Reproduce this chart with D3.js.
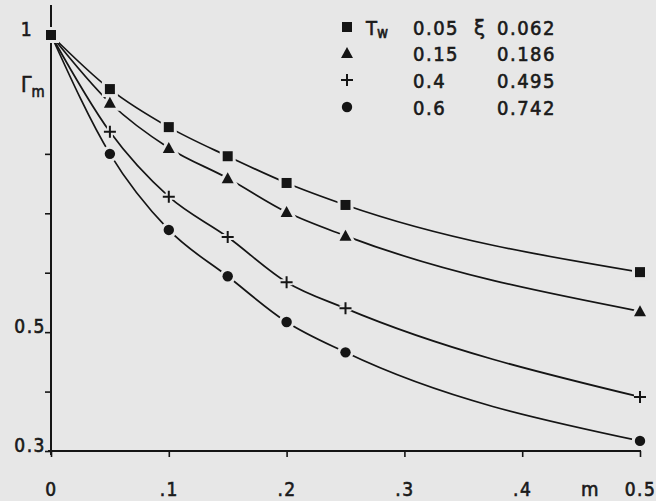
<!DOCTYPE html>
<html>
<head>
<meta charset="utf-8">
<script src="https://cdn.jsdelivr.net/npm/d3@7"></script>
<style>
  body { margin: 0; background: #e7e7e7; }
  svg text { font-family: "DejaVu Sans Condensed", "DejaVu Sans", sans-serif; fill: #1a1a1a; stroke: #1a1a1a; stroke-width: 0.6px; }
</style>
</head>
<body>
<svg id="chart" width="656" height="501"></svg>
<script>
// m values (x axis)
const mValues = [0, 0.05, 0.1, 0.15, 0.2, 0.25, 0.5];
// Gamma_m for each T_w curve
const seriesSquare   = [1, 0.909, 0.845, 0.796, 0.751, 0.714, 0.601];
const seriesTriangle = [1, 0.886, 0.810, 0.759, 0.702, 0.662, 0.535];
const seriesPlus     = [1, 0.837, 0.728, 0.660, 0.584, 0.540, 0.391];
const seriesCircle   = [1, 0.800, 0.672, 0.594, 0.517, 0.466, 0.317];
// legend
const twLabels = ["0.05", "0.15", "0.4", "0.6"];
const xiLabels = ["0.062", "0.186", "0.495", "0.742"];
const markerKinds = ["square", "triangle", "plus", "circle"];
// ticks
const xTicks = [0, 0.1, 0.2, 0.3, 0.4, 0.5];
const xTickLabels = ["0", ".1", ".2", ".3", ".4", "0.5"];
const yTicks = [0.3, 0.4, 0.5, 0.6, 0.7, 0.8, 1];
const yTickLabels = { 0.3: "0.3", 0.5: "0.5", 1: "1" };

const svg = d3.select("#chart");
const bg = "#e7e7e7";
const ink = "#151515";

const x = d3.scaleLinear().domain([0, 0.5]).range([51, 640]);
const y = d3.scaleLinear().domain([0.3, 1]).range([451, 35]);

// axes
const yAxis = d3.axisLeft(y)
    .tickValues(yTicks)
    .tickSize(6)
    .tickSizeOuter(0)
    .tickFormat(d => yTickLabels[d] || "");
const gy = svg.append("g").attr("transform", `translate(${x(0)},0)`).call(yAxis);
gy.select(".domain").remove();
gy.selectAll("line").attr("stroke", ink).attr("stroke-width", 1.6);
gy.selectAll("text")
    .attr("x", d => d === 1 ? -18 : -5).attr("dy", 0)
    .style("font-size", "19px").style("letter-spacing", "1.5px");

const xAxis = d3.axisBottom(x)
    .tickValues(xTicks)
    .tickSize(6)
    .tickSizeOuter(0)
    .tickFormat((d, i) => xTickLabels[i]);
const gx = svg.append("g").attr("transform", `translate(0,${y(0.3)})`).call(xAxis);
gx.select(".domain").remove();
gx.selectAll("line").attr("stroke", ink).attr("stroke-width", 1.6);
gx.selectAll("text")
    .attr("y", 45).attr("dy", 0)
    .style("font-size", "19px").style("letter-spacing", "1.5px");

// axis lines
svg.append("line")
    .attr("x1", x(0)).attr("x2", x(0))
    .attr("y1", 5).attr("y2", y(0.3) + 4)
    .attr("stroke", ink).attr("stroke-width", 2);
svg.append("line")
    .attr("x1", x(0) - 3).attr("x2", x(0.5) + 1)
    .attr("y1", y(0.3)).attr("y2", y(0.3))
    .attr("stroke", ink).attr("stroke-width", 2);

// axis titles
svg.append("text").attr("x", 581).attr("y", 496)
    .style("font-size", "20px").text("m");
const gl = svg.append("text").attr("x", 21).attr("y", 92).style("font-size", "21px");
gl.append("tspan").text("Γ");
gl.append("tspan").attr("dy", 5).style("font-size", "15px").text("m");

// curves
const allSeries = [seriesSquare, seriesTriangle, seriesPlus, seriesCircle];
const line = d3.line()
    .x((d, i) => x(mValues[i]))
    .y(d => y(d))
    .curve(d3.curveMonotoneX);

svg.append("g").selectAll("path")
    .data(allSeries)
    .enter()
    .append("path")
    .attr("d", line)
    .attr("fill", "none")
    .attr("stroke", ink)
    .attr("stroke-width", 1.7);

function drawMarker(g, kind, cx, cy, halo) {
    const s = halo ? bg : ink;
    let el;
    if (kind === "square") {
        el = g.append("rect").attr("x", cx - 5).attr("y", cy - 5).attr("width", 10).attr("height", 10);
    } else if (kind === "triangle") {
        el = g.append("path").attr("d", `M${cx},${cy - 6}L${cx + 6},${cy + 5}L${cx - 6},${cy + 5}Z`);
    } else if (kind === "circle") {
        el = g.append("circle").attr("cx", cx).attr("cy", cy).attr("r", 5.2);
    } else {
        g.append("path").attr("d", `M${cx - 6},${cy}H${cx + 6}M${cx},${cy - 6}V${cy + 6}`)
            .attr("fill", "none").attr("stroke", s).attr("stroke-width", halo ? 6 : 2);
        return;
    }
    el.attr("fill", s);
    if (halo) el.attr("stroke", bg).attr("stroke-width", 6);
}

// markers (with halo so lines stop short)
const gm = svg.append("g");
[true, false].forEach(halo => {
    allSeries.forEach((ser, si) => {
        ser.forEach((v, i) => {
            if (i === 0 && si > 0) return;
            drawMarker(gm, markerKinds[si], x(mValues[i]), y(v), halo);
        });
    });
});

// legend
const rowY = [27, 53, 80, 107];
const lg = svg.append("g");
markerKinds.forEach((k, i) => {
    drawMarker(lg, k, 347, rowY[i], false);
    lg.append("text").attr("x", 413).attr("y", rowY[i] + 8)
        .style("font-size", "20px").style("letter-spacing", "1.5px").text(twLabels[i]);
    lg.append("text").attr("x", 497).attr("y", rowY[i] + 8)
        .style("font-size", "20px").style("letter-spacing", "1.5px").text(xiLabels[i]);
});
const tw = lg.append("text").attr("x", 366).attr("y", rowY[0] + 8).style("font-size", "20px");
tw.append("tspan").text("T");
tw.append("tspan").attr("dy", 3).style("font-size", "15px").text("w");
lg.append("text").attr("x", 474).attr("y", rowY[0] + 8).style("font-size", "22px").text("ξ");
</script>
</body>
</html>
